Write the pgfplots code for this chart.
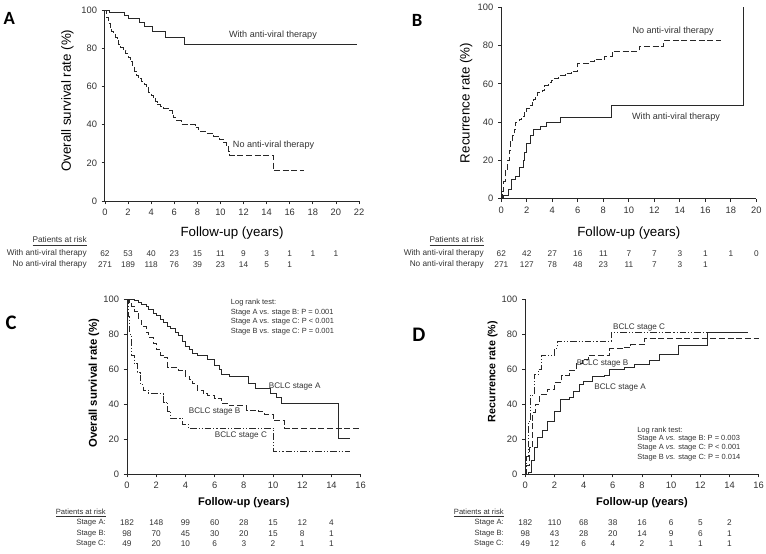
\documentclass[border=0pt]{standalone}
\usepackage{pgfplots}
\pgfplotsset{compat=1.18}
\usepackage{fontspec}
\setmainfont{Liberation Sans}
\newfontfamily\carlito{Carlito}
\definecolor{ln}{RGB}{40,40,40}
\definecolor{tx}{RGB}{50,50,50}
\pgfplotsset{
  km/.style={
    scale only axis, anchor=south west, clip=false,
    axis lines=left, enlargelimits=false,
    axis line style={-, ln, line width=0.75pt},
    tick align=outside, major tick length=2.5pt,
    tick style={ln, line width=0.6pt},
    ymin=0, ymax=100, ytick={0,20,...,100}, xmin=0,
    tick label style={font=\fontsize{7}{8}\selectfont, text=tx},
    /pgf/number format/assume math mode=true,
    every axis plot/.append style={line width=0.65pt, ln},
    label style={font=\bfseries\fontsize{9}{10}\selectfont, text=black!90},
  },
}
\tikzset{
  lab/.style={font=\fontsize{6.8}{8}\selectfont, text=tx, inner sep=0pt},
  rk/.style={font=\fontsize{6.2}{7}\selectfont, text=tx, inner sep=0pt, anchor=center},
  rl/.style={rk, anchor=east},
  lr/.style={font=\fontsize{5.6}{7.2}\selectfont, text=tx, inner sep=0pt, align=left, anchor=north west},
  dsh/.style={dash pattern=on 4.5pt off 2pt},
  ddot/.style={dash pattern=on 5pt off 1.5pt on 0.8pt off 1.5pt on 0.8pt off 1.5pt},
}
\begin{document}
\begin{tikzpicture}
\useasboundingbox (0,0) rectangle (574.5pt,-414.75pt);
% ---------------- A ----------------
\begin{axis}[km, at={(78.75pt,-150.75pt)}, width=190.5pt, height=143.25pt,
  xmax=22, xtick={0,2,...,22},
  xlabel={Follow-up (years)}, ylabel={Overall survival rate (\%)},
  every axis x label/.style={at={(axis description cs:0.5,-0.166)}, anchor=center},
  every axis y label/.style={at={(axis description cs:-0.148,0.525)}, anchor=center, rotate=90}]
\addplot[const plot] coordinates {(0,100)(0.4,98.8)(1.65,97.2)(2.05,95.5)(3.0,93.4)(3.4,91.3)(4.1,88.7)(5.2,85.9)(6.85,82)(21.8,82)};
\addplot[const plot, dsh] coordinates {(0,100)(0.15,96)(0.3,93)(0.45,91)(0.6,89)(0.75,87)(0.9,85.5)(1.05,84)(1.2,82)(1.35,80.5)(1.6,79)(1.8,77)(2.0,75)(2.2,73)(2.4,70.5)(2.55,68)(2.7,65.5)(2.9,64)(3.15,62.5)(3.4,61)(3.6,59.5)(3.8,57)(4.0,55.5)(4.2,54)(4.4,52)(4.5,50.3)(4.8,49.5)(5.1,48.5)(5.5,47.5)(5.8,46)(5.95,43.5)(6.2,42)(6.6,40.3)(7.6,40)(7.8,38.5)(8.1,36.5)(8.7,35.4)(9.4,34)(9.9,32)(10.3,30.5)(10.5,28.4)(10.7,26)(10.8,24)(14.55,16)(17.2,16)};
\node[lab] at (axis cs:14.55,86.9) {With anti-viral therapy};
\node[lab] at (axis cs:14.6,29.3) {No anti-viral therapy};
\node[rl] at (axis cs:-1.56,-21.1) {\underline{Patients at risk}};
\node[rl] at (axis cs:-1.56,-27.4) {With anti-viral therapy};
\node[rl] at (axis cs:-1.56,-33.1) {No anti-viral therapy};
\node[rk] at (axis cs:0,-27.4) {62};
\node[rk] at (axis cs:2,-27.4) {53};
\node[rk] at (axis cs:4,-27.4) {40};
\node[rk] at (axis cs:6,-27.4) {23};
\node[rk] at (axis cs:8,-27.4) {15};
\node[rk] at (axis cs:10,-27.4) {11};
\node[rk] at (axis cs:12,-27.4) {9};
\node[rk] at (axis cs:14,-27.4) {3};
\node[rk] at (axis cs:16,-27.4) {1};
\node[rk] at (axis cs:18,-27.4) {1};
\node[rk] at (axis cs:20,-27.4) {1};
\node[rk] at (axis cs:0,-33.1) {271};
\node[rk] at (axis cs:2,-33.1) {189};
\node[rk] at (axis cs:4,-33.1) {118};
\node[rk] at (axis cs:6,-33.1) {76};
\node[rk] at (axis cs:8,-33.1) {39};
\node[rk] at (axis cs:10,-33.1) {23};
\node[rk] at (axis cs:12,-33.1) {14};
\node[rk] at (axis cs:14,-33.1) {5};
\node[rk] at (axis cs:16,-33.1) {1};
\end{axis}
% ---------------- B ----------------
\begin{axis}[km, at={(376pt,-149pt)}, width=191.25pt, height=143.5pt,
  xmax=20, xtick={0,2,...,20},
  xlabel={Follow-up (years)}, ylabel={Recurrence rate (\%)},
  every axis x label/.style={at={(axis description cs:0.5,-0.178)}, anchor=center},
  every axis y label/.style={at={(axis description cs:-0.138,0.5)}, anchor=center, rotate=90}]
\addplot[const plot] coordinates {(0,0)(0.2,1.5)(0.55,5)(0.8,10)(1.1,11.5)(1.4,16.5)(1.7,20)(1.85,24)(2.0,29)(2.3,33)(2.5,36)(3.1,38)(3.5,40)(4.6,42.5)(8.6,48.5)(19,100)};
\addplot[const plot, dsh] coordinates {(0,0)(0.1,4)(0.2,9)(0.3,15)(0.45,20)(0.6,25)(0.7,30)(0.9,33)(1.0,36)(1.1,40)(1.4,41.5)(1.6,43)(1.8,45)(2.0,47)(2.2,48.5)(2.4,50.5)(2.5,52)(2.7,54)(2.8,55.5)(3.2,56.5)(3.4,59)(3.7,60.5)(3.9,62)(4.1,63)(4.5,64.5)(5.0,65.5)(5.5,66.5)(6.0,70.5)(6.9,71.5)(7.3,73)(8.1,74.5)(8.7,77)(10.8,79.5)(12.7,82.5)(17.2,82.5)};
\node[lab] at (axis cs:13.47,87.8) {No anti-viral therapy};
\node[lab] at (axis cs:13.7,42.8) {With anti-viral therapy};
\node[rl] at (axis cs:-1.36,-22.3) {\underline{Patients at risk}};
\node[rl] at (axis cs:-1.36,-28.5) {With anti-viral therapy};
\node[rl] at (axis cs:-1.36,-34.3) {No anti-viral therapy};
\node[rk] at (axis cs:0,-28.5) {62};
\node[rk] at (axis cs:2,-28.5) {42};
\node[rk] at (axis cs:4,-28.5) {27};
\node[rk] at (axis cs:6,-28.5) {16};
\node[rk] at (axis cs:8,-28.5) {11};
\node[rk] at (axis cs:10,-28.5) {7};
\node[rk] at (axis cs:12,-28.5) {7};
\node[rk] at (axis cs:14,-28.5) {3};
\node[rk] at (axis cs:16,-28.5) {1};
\node[rk] at (axis cs:18,-28.5) {1};
\node[rk] at (axis cs:20,-28.5) {0};
\node[rk] at (axis cs:0,-34.3) {271};
\node[rk] at (axis cs:2,-34.3) {127};
\node[rk] at (axis cs:4,-34.3) {78};
\node[rk] at (axis cs:6,-34.3) {48};
\node[rk] at (axis cs:8,-34.3) {23};
\node[rk] at (axis cs:10,-34.3) {11};
\node[rk] at (axis cs:12,-34.3) {7};
\node[rk] at (axis cs:14,-34.3) {3};
\node[rk] at (axis cs:16,-34.3) {1};
\end{axis}
% ---------------- C ----------------
\begin{axis}[km, at={(95.25pt,-355.5pt)}, width=175.25pt, height=131.25pt,
  xmax=16, xtick={0,2,...,16},
  xlabel={Follow-up (years)}, ylabel={Overall survival rate (\%)},
  every axis x label/.style={at={(axis description cs:0.5,-0.166)}, anchor=center, font=\bfseries\fontsize{8.3}{10}\selectfont},
  every axis y label/.style={at={(axis description cs:-0.141,0.52)}, anchor=center, rotate=90, font=\bfseries\fontsize{8.5}{10}\selectfont}]
\addplot[const plot] coordinates {(0,100)(0.3,99.5)(0.5,99)(0.8,98)(1,97)(1.3,95.5)(1.5,94)(1.8,92)(2,90.5)(2.3,88.5)(2.5,86.5)(2.8,84.5)(3,83)(3.3,81)(3.5,79)(3.8,76)(4,73)(4.3,71)(4.5,69)(4.8,68)(5,67.5)(5.5,65.5)(6,62)(6.3,59.5)(6.5,57)(7,55.5)(8.3,52)(8.8,49)(9.8,46)(10.2,43.5)(10.6,40.5)(14.5,20.5)(15.3,20.5)};
\addplot[const plot, dsh] coordinates {(0,100)(0.15,98)(0.3,96)(0.5,93)(0.8,88)(1,84.5)(1.3,81)(1.5,78)(1.8,74.5)(2,71)(2.3,68)(2.5,66.5)(2.8,61)(3.5,59)(4,56)(4.3,54)(4.5,51.5)(4.8,48)(5.2,46)(5.5,45)(6,43)(6.5,40.5)(7,39)(8.2,36.5)(9,35.5)(9.4,34)(10,30.5)(10.8,26)(15.9,26)};
\addplot[const plot, ddot] coordinates {(0,100)(0.1,90)(0.2,80)(0.3,68)(0.5,63)(0.7,58)(0.9,51)(1.1,48)(1.5,46)(2.5,41)(2.8,36)(3,32)(3.8,28.5)(4.2,26)(10.05,13)(15.3,13)};
\node[lr] at (axis cs:7.1,100) {Log rank test:\\Stage A vs. stage B: P = 0.001\\Stage A vs. stage C: P < 0.001\\Stage B vs. stage C: P = 0.001};
\node[lab, font=\fontsize{6.1}{7}\selectfont, anchor=west] at (axis cs:9.7,50.1) {BCLC stage A};
\node[lab, font=\fontsize{6.1}{7}\selectfont] at (axis cs:6.0,35.8) {BCLC stage B};
\node[lab, font=\fontsize{6.1}{7}\selectfont] at (axis cs:7.8,22) {BCLC stage C};
\node[rl, font=\fontsize{5.7}{7}\selectfont] at (axis cs:-1.44,-22.1) {\underline{Patients at risk}};
\node[rl, font=\fontsize{5.7}{7}\selectfont] at (axis cs:-1.44,-27.6) {Stage A:};
\node[rl, font=\fontsize{5.7}{7}\selectfont] at (axis cs:-1.44,-33.9) {Stage B:};
\node[rl, font=\fontsize{5.7}{7}\selectfont] at (axis cs:-1.44,-40) {Stage C:};
\node[rk] at (axis cs:0,-27.6) {182};
\node[rk] at (axis cs:2,-27.6) {148};
\node[rk] at (axis cs:4,-27.6) {99};
\node[rk] at (axis cs:6,-27.6) {60};
\node[rk] at (axis cs:8,-27.6) {28};
\node[rk] at (axis cs:10,-27.6) {15};
\node[rk] at (axis cs:12,-27.6) {12};
\node[rk] at (axis cs:14,-27.6) {4};
\node[rk] at (axis cs:0,-33.9) {98};
\node[rk] at (axis cs:2,-33.9) {70};
\node[rk] at (axis cs:4,-33.9) {45};
\node[rk] at (axis cs:6,-33.9) {30};
\node[rk] at (axis cs:8,-33.9) {20};
\node[rk] at (axis cs:10,-33.9) {15};
\node[rk] at (axis cs:12,-33.9) {8};
\node[rk] at (axis cs:14,-33.9) {1};
\node[rk] at (axis cs:0,-40) {49};
\node[rk] at (axis cs:2,-40) {20};
\node[rk] at (axis cs:4,-40) {10};
\node[rk] at (axis cs:6,-40) {6};
\node[rk] at (axis cs:8,-40) {3};
\node[rk] at (axis cs:10,-40) {2};
\node[rk] at (axis cs:12,-40) {1};
\node[rk] at (axis cs:14,-40) {1};
\end{axis}
% ---------------- D ----------------
\begin{axis}[km, at={(394pt,-355.5pt)}, width=175pt, height=131.25pt,
  xmax=16, xtick={0,2,...,16},
  xlabel={Follow-up (years)}, ylabel={Recurrence rate (\%)},
  every axis x label/.style={at={(axis description cs:0.5,-0.166)}, anchor=center, font=\bfseries\fontsize{8.3}{10}\selectfont},
  every axis y label/.style={at={(axis description cs:-0.14,0.585)}, anchor=center, rotate=90, font=\bfseries\fontsize{8}{10}\selectfont}]
\addplot[const plot] coordinates {(0,0)(0.2,1)(0.4,8)(0.6,15)(0.8,21)(1.2,25)(1.5,30)(2,36)(2.4,42.5)(3,44)(3.3,47)(3.7,51)(4,53)(4.6,56)(5.4,56.5)(5.8,59.5)(6.8,61)(7.5,62.5)(8.5,65)(9.2,68.5)(10.5,73.5)(12.5,81)(15.3,81)};
\addplot[const plot, dsh] coordinates {(0,0)(0.1,5)(0.3,15)(0.5,35)(0.7,40)(1,45.5)(1.5,48.5)(2,52.5)(2.5,56.5)(3,59)(3.5,63)(3.9,65.5)(4.3,67.5)(5.8,71.5)(6.7,72.5)(7.2,74)(8.2,77.5)(16,77.5)};
\addplot[const plot, ddot] coordinates {(0,0)(0.1,10)(0.2,30)(0.35,45)(0.6,57)(0.9,60)(1.1,68)(2,72)(2.2,76)(5.9,81)(15.3,81)};
\node[lr, anchor=west] at (axis cs:7.66,24.7) {Log rank test:};
\node[lr] at (axis cs:7.66,22.5) {Stage A \textit{vs.} stage B: P = 0.003\\Stage A \textit{vs.} stage C: P < 0.001\\Stage B \textit{vs.} stage C: P = 0.014};
\node[lab, font=\fontsize{6.1}{7}\selectfont] at (axis cs:7.8,84) {BCLC stage C};
\node[lab, font=\fontsize{6.1}{7}\selectfont] at (axis cs:5.3,63.4) {BCLC stage B};
\node[lab, font=\fontsize{6.1}{7}\selectfont] at (axis cs:6.5,49.7) {BCLC stage A};
\node[rl, font=\fontsize{5.7}{7}\selectfont] at (axis cs:-1.46,-22.1) {\underline{Patients at risk}};
\node[rl, font=\fontsize{5.7}{7}\selectfont] at (axis cs:-1.46,-27.6) {Stage A:};
\node[rl, font=\fontsize{5.7}{7}\selectfont] at (axis cs:-1.46,-33.9) {Stage B:};
\node[rl, font=\fontsize{5.7}{7}\selectfont] at (axis cs:-1.46,-40) {Stage C:};
\node[rk] at (axis cs:0,-27.6) {182};
\node[rk] at (axis cs:2,-27.6) {110};
\node[rk] at (axis cs:4,-27.6) {68};
\node[rk] at (axis cs:6,-27.6) {38};
\node[rk] at (axis cs:8,-27.6) {16};
\node[rk] at (axis cs:10,-27.6) {6};
\node[rk] at (axis cs:12,-27.6) {5};
\node[rk] at (axis cs:14,-27.6) {2};
\node[rk] at (axis cs:0,-33.9) {98};
\node[rk] at (axis cs:2,-33.9) {43};
\node[rk] at (axis cs:4,-33.9) {28};
\node[rk] at (axis cs:6,-33.9) {20};
\node[rk] at (axis cs:8,-33.9) {14};
\node[rk] at (axis cs:10,-33.9) {9};
\node[rk] at (axis cs:12,-33.9) {6};
\node[rk] at (axis cs:14,-33.9) {1};
\node[rk] at (axis cs:0,-40) {49};
\node[rk] at (axis cs:2,-40) {12};
\node[rk] at (axis cs:4,-40) {6};
\node[rk] at (axis cs:6,-40) {4};
\node[rk] at (axis cs:8,-40) {2};
\node[rk] at (axis cs:10,-40) {1};
\node[rk] at (axis cs:12,-40) {1};
\node[rk] at (axis cs:14,-40) {1};
\end{axis}
% panel letters
\node[font=\carlito\bfseries\fontsize{14}{16}\selectfont] at (7pt,-13.5pt) {A};
\node[font=\carlito\bfseries\fontsize{14}{16}\selectfont] at (312.75pt,-15pt) {B};
\node[font=\carlito\bfseries\fontsize{15.5}{17}\selectfont] at (8.25pt,-242.25pt) {C};
\node[font=\carlito\bfseries\fontsize{15.5}{17}\selectfont] at (314.25pt,-251.25pt) {D};
\end{tikzpicture}
\end{document}
